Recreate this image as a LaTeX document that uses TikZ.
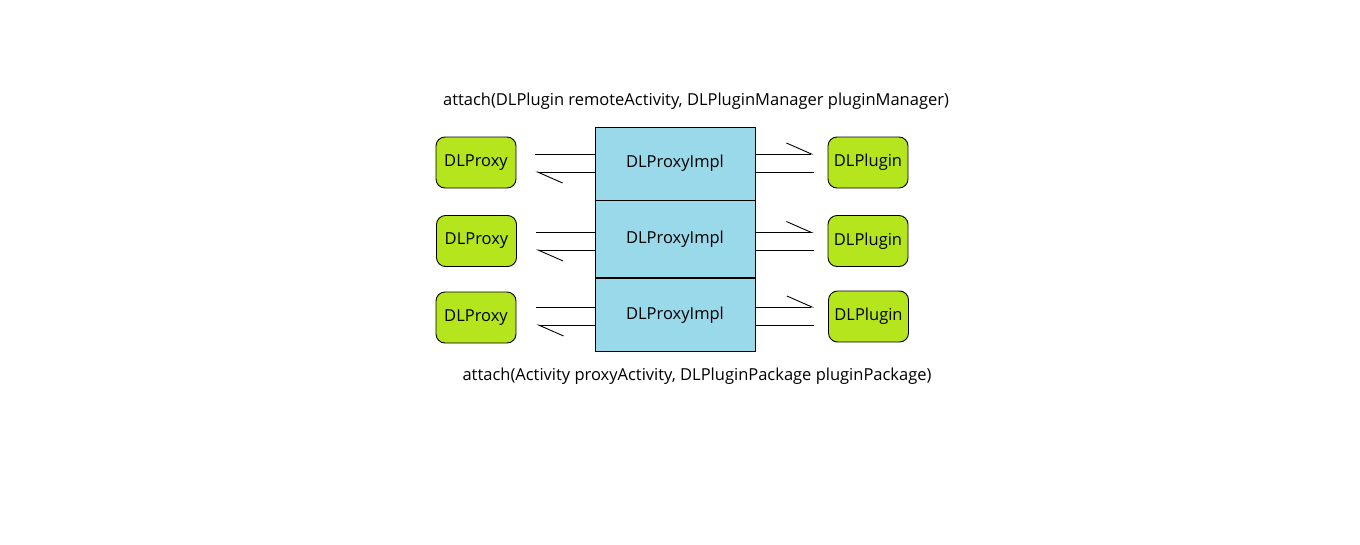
\documentclass[tikz,border=0pt]{standalone}
\usepackage{fontspec}
\setmainfont{Open Sans}
\usetikzlibrary{arrows.meta}
\usetikzlibrary{positioning}

\definecolor{plgreen}{HTML}{B5E61D}
\definecolor{implblue}{HTML}{99D9EA}

\begin{document}
\begin{tikzpicture}[x=1pt,y=-1pt,line width=0.9pt,
    every node/.style={font=\fontsize{16.5}{19}\selectfont},
    endbox/.style={draw,rounded corners=9pt,fill=plgreen,minimum width=80pt,minimum height=51pt,inner sep=0pt},
    implbox/.style={draw,fill=implblue,minimum width=160pt,minimum height=73pt,inner sep=0pt},
    half/.style={-{Straight Barb[harpoon,length=25pt,width=22pt]}}]
    \useasboundingbox (0,0) rectangle (1360,544);

    % middle column
    \node[implbox] (i1) at (675,163.5) {DLProxyImpl};
    \node[implbox,minimum height=77pt,below=0pt of i1] (i2) {DLProxyImpl};
    \node[implbox,below=0pt of i2] (i3) {DLProxyImpl};

    % proxies and plugins
    \node[endbox] (p1) at (476,162.5) {DLProxy};
    \node[endbox] (p2) at (476.5,241) {DLProxy};
    \node[endbox] (p3) at (476,317.5) {DLProxy};
    \node[endbox] (pl1) at (868,162.5) {DLPlugin};
    \node[endbox] (pl2) at (868,241) {DLPlugin};
    \node[endbox] (pl3) at (868.5,316.5) {DLPlugin};

    \node (top) at (696,101) {attach(DLPlugin remoteActivity, DLPluginManager pluginManager)};
    \node (bot) at (697,376) {attach(Activity proxyActivity, DLPluginPackage pluginPackage)};

    % row 1
    \coordinate (u1) at ([yshift=8.5pt]p1.east);
    \coordinate (d1) at ([yshift=-9.5pt]p1.east);
    \draw[shorten <=19pt] (u1) -- (u1 -| i1.west);
    \draw[half,shorten >=19pt] (d1 -| i1.west) -- (d1);
    \draw[half,shorten >=14pt] (u1 -| i1.east) -- (u1 -| pl1.west);
    \draw[shorten >=14pt] (d1 -| i1.east) -- (d1 -| pl1.west);

    % row 2
    \coordinate (u2) at ([yshift=8.5pt]p2.east);
    \coordinate (d2) at ([yshift=-9pt]p2.east);
    \draw[shorten <=19pt] (u2) -- (u2 -| i2.west);
    \draw[half,shorten >=19pt] (d2 -| i2.west) -- (d2);
    \draw[half,shorten >=14pt] (u2 -| i2.east) -- (u2 -| pl2.west);
    \draw[shorten >=14pt] (d2 -| i2.east) -- (d2 -| pl2.west);

    % row 3
    \coordinate (u3) at ([yshift=10.5pt]p3.east);
    \coordinate (d3) at ([yshift=-7.5pt]p3.east);
    \draw[shorten <=20pt] (u3) -- (u3 -| i3.west);
    \draw[half,shorten >=20pt] (d3 -| i3.west) -- (d3);
    \draw[half,shorten >=14pt] (u3 -| i3.east) -- (u3 -| pl3.west);
    \draw[shorten >=14pt] (d3 -| i3.east) -- (d3 -| pl3.west);
\end{tikzpicture}
\end{document}
